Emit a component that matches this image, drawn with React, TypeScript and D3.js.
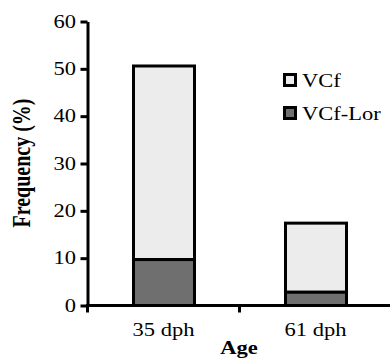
import React, { useEffect, useRef } from 'react';
import * as d3 from 'd3';

const ages = ['35 dph', '61 dph'];
const vcfLor = [9.7, 2.8];
const vcfTotal = [50.6, 17.4];
const yTicks = [0, 10, 20, 30, 40, 50, 60];
const legendLabels = ['VCf', 'VCf-Lor'];
const legendColors = ['#ececec', '#6f6f6f'];

const FONT = '"Liberation Serif", "Times New Roman", serif';
const STRETCH = 1.25;

const App: React.FC = () => {
  const ref = useRef<SVGSVGElement | null>(null);

  useEffect(() => {
    const svg = d3.select(ref.current);
    svg.selectAll('*').remove();

    const x = d3.scaleBand<string>().domain(ages).range([87.5, 391.5]).padding(0);
    const y = d3.scaleLinear().domain([0, 60]).range([305.5, 21.5]);
    const barW = x.bandwidth() * 0.4;

    const label = (
      tx: number,
      ty: number,
      text: string,
      anchor: string,
      opts: { bold?: boolean; size?: number; rotate?: boolean } = {}
    ) =>
      svg
        .append('text')
        .attr(
          'transform',
          opts.rotate
            ? `translate(${tx},${ty}) rotate(-90) scale(1,${STRETCH})`
            : `translate(${tx},${ty}) scale(${STRETCH},1)`
        )
        .attr('text-anchor', anchor)
        .style('font-family', FONT)
        .style('font-size', `${opts.size ?? 18}px`)
        .style('font-weight', opts.bold ? 'bold' : 'normal')
        .attr('fill', '#000')
        .text(text);

    // bars
    ages.forEach((a, i) => {
      const x0 = Math.round((x(a) as number) + (x.bandwidth() - barW) / 2) + 0.5;
      svg.append('rect')
        .attr('x', x0).attr('width', Math.round(barW))
        .attr('y', y(vcfTotal[i])).attr('height', y(vcfLor[i]) - y(vcfTotal[i]))
        .attr('fill', legendColors[0]).attr('stroke', '#000').attr('stroke-width', 3);
      svg.append('rect')
        .attr('x', x0).attr('width', Math.round(barW))
        .attr('y', y(vcfLor[i])).attr('height', y(0) - y(vcfLor[i]))
        .attr('fill', legendColors[1]).attr('stroke', '#000').attr('stroke-width', 3);
    });

    // y axis
    const yAxis = svg.append('g')
      .attr('transform', 'translate(87.5,0)')
      .call(d3.axisLeft(y).tickValues(yTicks).tickSize(7).tickSizeOuter(0).tickFormat(() => ''));
    yAxis.selectAll('path, line').attr('stroke', '#000').attr('stroke-width', 3);
    yTicks.forEach(t => label(76, y(t) + 6, String(t), 'end'));

    // x axis
    const xEdges = [...ages.map(a => x(a) as number), 391.5];
    svg.append('line')
      .attr('x1', 86).attr('x2', 392).attr('y1', y(0)).attr('y2', y(0))
      .attr('stroke', '#000').attr('stroke-width', 3);
    xEdges.forEach(e =>
      svg.append('line')
        .attr('x1', e).attr('x2', e).attr('y1', y(0)).attr('y2', y(0) + 7)
        .attr('stroke', '#000').attr('stroke-width', 3)
    );
    ages.forEach(a => label((x(a) as number) + x.bandwidth() / 2, 336, a, 'middle'));

    // titles
    label(239, 354, 'Age', 'middle', { bold: true });
    label(30, 163, 'Frequency (%)', 'middle', { bold: true, size: 20, rotate: true });

    // legend
    legendLabels.forEach((l, i) => {
      const ly = 74.5 + i * 33;
      svg.append('rect')
        .attr('x', 284.5).attr('y', ly).attr('width', 11).attr('height', 11)
        .attr('fill', legendColors[i]).attr('stroke', '#000').attr('stroke-width', 3);
      label(302, ly + 12, l, 'start');
    });
  }, []);

  return (
    <svg
      ref={ref}
      width={390}
      height={361}
      style={{ position: 'absolute', left: 0, top: 0, background: '#fff' }}
    />
  );
};

export default App;
